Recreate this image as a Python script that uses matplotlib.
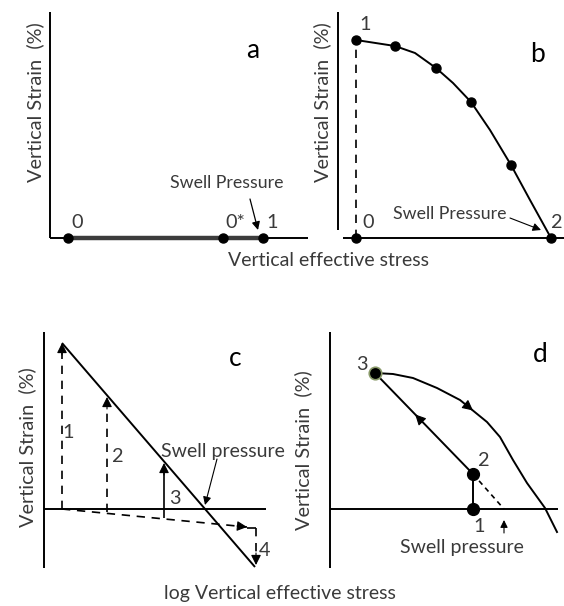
import matplotlib
matplotlib.use("Agg")
import matplotlib.pyplot as plt
import numpy as np

plt.rcParams['font.family'] = ['Lato', 'DejaVu Sans']

W, H = 564, 606
TXT = '#3a3a3a'
FS = 14.3
FS_LET = 19

# ---------------- data (schematic units) ----------------
# Panel a
a_points_x = [1.8, 17.3, 21.3]
a_labels = ['0', '0*', '1']
# Panel b: curve (markers + traced points between them)
b_curve_x = [0.0, 3.9, 5.9, 8.0, 9.7, 11.5, 13.4, 15.5, 17.4, 19.5]
b_curve_y = [19.8, 19.2, 18.5, 17.0, 15.5, 13.6, 10.8, 7.3, 3.8, 0.0]
b_marker_x = [0.0, 3.9, 8.0, 11.5, 15.5, 19.5]
b_marker_y = [19.8, 19.2, 17.0, 13.6, 7.3, 0.0]
# Panel c
c_line_x = [1.8, 21.1]
c_line_y = [16.6, -5.8]
c_step_x = [1.8, 6.3, 12.0]
c_step_base = [0.0, -0.3, -0.9]
c_step_top = [16.6, 11.2, 4.6]
c_swell_path_x = [1.8, 20.3]
c_swell_path_y = [0.0, -1.8]
c_step4_x = 21.2
c_step4_y = [-1.9, -5.6]
# Panel d
d_pt_x = [14.3, 14.3, 4.5]   # points 1, 2, 3
d_pt_y = [0.0, 3.5, 13.6]
d_curve_x = [4.5, 6.3, 8.3, 10.7, 13.0, 15.7, 17.0, 18.3, 19.7, 21.5, 22.7]
d_curve_y = [13.6, 13.5, 13.1, 12.1, 10.9, 8.7, 7.2, 4.9, 2.6, 0.1, -2.3]
d_swell_x = 17.4

# ---------------- layout: panel origins in pixels ----------------
origins = {'a': (50, 238), 'b': (356, 238), 'c': (44, 509), 'd': (330, 509)}
SC = 10.0

fig = plt.figure(figsize=(W / 100, H / 100), dpi=100)
ax = fig.add_axes([0, 0, 1, 1])
ax.set_xlim(0, W)
ax.set_ylim(H, 0)
ax.axis('off')


def P(panel, x, y):
    ox, oy = origins[panel]
    x = np.asarray(x, dtype=float)
    y = np.asarray(y, dtype=float)
    return ox + SC * x, oy - SC * y


def line(panel, xs, ys, **kw):
    X, Y = P(panel, xs, ys)
    kw.setdefault('color', 'black')
    kw.setdefault('lw', 1.3)
    ax.plot(X, Y, solid_capstyle='butt', solid_joinstyle='round', **kw)


def text(panel, x, y, s, **kw):
    X, Y = P(panel, x, y)
    kw.setdefault('fontsize', FS)
    kw.setdefault('color', TXT)
    kw.setdefault('ha', 'center')
    kw.setdefault('va', 'center')
    ax.text(X, Y, s, **kw)


def arrow(panel, x0, y0, x1, y1, lw=1.0, ms=10, style='-|>'):
    X0, Y0 = P(panel, x0, y0)
    X1, Y1 = P(panel, x1, y1)
    ax.annotate('', xy=(X1, Y1), xytext=(X0, Y0),
                arrowprops=dict(arrowstyle=style, color='black', lw=lw,
                                mutation_scale=ms, shrinkA=0, shrinkB=0))


def head(panel, x0, y0, x1, y1, ms=15):
    # arrow head only, pointing from (x0,y0) to (x1,y1)
    X0, Y0 = P(panel, x0, y0)
    X1, Y1 = P(panel, x1, y1)
    ax.annotate('', xy=(X1, Y1), xytext=(X0, Y0),
                arrowprops=dict(arrowstyle='-|>', color='black', lw=0.8,
                                mutation_scale=ms, shrinkA=0, shrinkB=0))

# ---------------- panel a ----------------
line('a', [0, 0], [0, 22.6], lw=1.4)
line('a', [0, 25.8], [0, 0], lw=1.4)
line('a', [a_points_x[0], a_points_x[-1]], [0, 0], lw=3.2, color='#3c3c3c')
X, Y = P('a', a_points_x, [0] * len(a_points_x))
ax.plot(X, Y, 'o', color='black', ms=6.5)
for xv, lab, dx in zip(a_points_x, a_labels, [0.9, 1.2, 0.9]):
    text('a', xv + dx, 1.6, lab)
text('a', 20.3, 18.8, 'a', fontsize=FS_LET, color='black')
text('a', 17.7, 5.5, 'Swell Pressure', fontsize=12.8)
arrow('a', 20.0, 3.9, 20.8, 0.8, lw=0.9, ms=12)
text('a', -1.5, 13.6, 'Vertical Strain  (%)', rotation=90)

# ---------------- panel b ----------------
line('b', [-1.8, -1.8], [0.8, 22.6], lw=1.4)
line('b', [-1.3, 20.8], [0, 0], lw=1.4)
line('b', [0, 0], [0, b_curve_y[0]], ls=(0, (5, 4)), lw=1.2)
X, Y = P('b', b_curve_x, b_curve_y)
ax.plot(X, Y, '-', color='black', lw=1.4, solid_joinstyle='round')
X, Y = P('b', b_marker_x, b_marker_y)
ax.plot(X, Y, 'o', color='black', ms=6.5)
X, Y = P('b', [0], [0])
ax.plot(X, Y, 'o', color='black', ms=6.5)
text('b', 0.9, 21.3, '1')
text('b', 1.2, 1.6, '0')
text('b', 20.0, 1.6, '2')
text('b', 18.1, 18.3, 'b', fontsize=FS_LET, color='black')
text('b', 9.4, 2.4, 'Swell Pressure', fontsize=12.8)
arrow('b', 15.4, 2.0, 18.5, 0.8, lw=0.8, ms=12)
text('b', -3.4, 13.6, 'Vertical Strain  (%)', rotation=90)
text('b', -2.8, -2.2, 'Vertical effective stress', fontsize=14)

# ---------------- panel c ----------------
line('c', [0, 0], [-5.9, 17.7], lw=1.4)
line('c', [0, 22.2], [0, 0], lw=1.4)
line('c', c_line_x, c_line_y, lw=1.4)
for i, (xv, yb, yt) in enumerate(zip(c_step_x, c_step_base, c_step_top)):
    if i < 2:
        line('c', [xv, xv], [yb, yt - 0.6], ls=(0, (5, 4)), lw=1.2)
    else:
        line('c', [xv, xv], [yb, yt - 0.6], lw=1.2)
    head('c', xv, yt - 1.2, xv, yt)
line('c', c_swell_path_x, c_swell_path_y, ls=(0, (5, 4)), lw=1.2)
head('c', c_swell_path_x[1] - 1.0, c_swell_path_y[1] + 0.1,
     c_swell_path_x[1], c_swell_path_y[1])
line('c', [c_swell_path_x[1], c_step4_x], [c_step4_y[0], c_step4_y[0]], lw=1.2)
line('c', [c_step4_x, c_step4_x], [c_step4_y[0], c_step4_y[1] + 0.6],
     ls=(0, (5, 4)), lw=1.2)
head('c', c_step4_x, c_step4_y[1] + 1.2, c_step4_x, c_step4_y[1])
text('c', 2.4, 7.6, '1')
text('c', 7.3, 5.2, '2')
text('c', 13.1, 1.0, '3')
text('c', 22.1, -4.1, '4')
text('c', 19.1, 15.1, 'c', fontsize=FS_LET, color='black')
text('c', 17.9, 5.7, 'Swell pressure', fontsize=14)
arrow('c', 17.3, 5.0, 16.1, 0.4, lw=0.8, ms=12)
text('c', -1.7, 6.2, 'Vertical Strain  (%)', rotation=90)
text('c', 23.6, -8.4, 'log Vertical effective stress', fontsize=14)

# ---------------- panel d ----------------
line('d', [0, 0], [-5.9, 17.7], lw=1.4)
line('d', [0, 22.8], [0, 0], lw=1.4)
X, Y = P('d', d_curve_x, d_curve_y)
ax.plot(X, Y, '-', color='black', lw=1.4, solid_joinstyle='round')
line('d', [d_pt_x[1], d_pt_x[2]], [d_pt_y[1], d_pt_y[2]], lw=1.4)
line('d', [d_pt_x[0], d_pt_x[1]], [d_pt_y[0], d_pt_y[1]], lw=1.4)
line('d', [d_pt_x[1], d_swell_x], [d_pt_y[1], 0], ls=(0, (3, 2.5)), lw=1.2)
X, Y = P('d', d_pt_x[:2], d_pt_y[:2])
ax.plot(X, Y, 'o', color='black', ms=8.5)
X, Y = P('d', d_pt_x[2:], d_pt_y[2:])
ax.plot(X, Y, 'o', color='black', mec='#8a9a6a', mew=1.2, ms=9)
# direction arrows
t = 0.59
mx = d_pt_x[1] + t * (d_pt_x[2] - d_pt_x[1])
my = d_pt_y[1] + t * (d_pt_y[2] - d_pt_y[1])
head('d', mx + 0.5, my - 0.52, mx, my, ms=16)
head('d', 13.5, 10.5, 14.3, 9.85, ms=16)
text('d', 3.2, 14.5, '3')
text('d', 15.3, 4.9, '2')
text('d', 14.9, -1.8, '1')
text('d', 21.0, 15.4, 'd', fontsize=FS_LET, color='black')
text('d', 13.2, -3.8, 'Swell pressure', fontsize=14)
arrow('d', d_swell_x, -2.4, d_swell_x, -1.1, lw=0.8, ms=11)
text('d', -2.7, 5.9, 'Vertical Strain  (%)', rotation=90)

fig.savefig('out.png', dpi=100)
